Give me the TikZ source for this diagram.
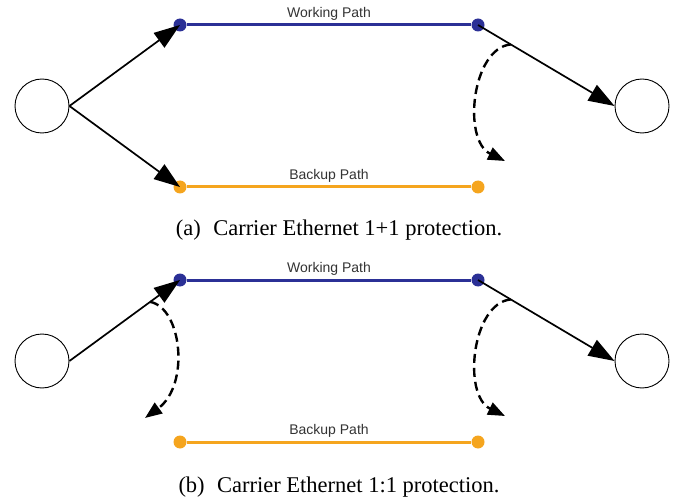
\documentclass[tikz,border=0pt]{standalone}
\usepackage{fontspec}
\setmainfont{Liberation Serif}
\newfontfamily\labelfont{Liberation Sans}
\usetikzlibrary{arrows.meta}

\definecolor{workblue}{RGB}{43,48,150}
\definecolor{backorange}{RGB}{245,165,30}

\begin{document}
\begin{tikzpicture}[x=1pt, y=-1pt,
    host/.style={draw, circle, line width=0.9pt, minimum size=54pt, inner sep=0pt},
    port/.style={circle, fill=#1, minimum size=13pt, inner sep=0pt},
    work/.style={line width=3pt, workblue},
    backup/.style={line width=3pt, backorange},
    link/.style={line width=1.7pt, -{Triangle[length=26pt, width=18pt]}},
    switch/.style={line width=2.4pt, dash pattern=on 9pt off 5pt, -{Triangle[length=17pt, width=13pt]}},
    pathlabel/.style={font=\labelfont\fontsize{14}{16}\selectfont, text=black!80, anchor=base},
    caption/.style={font=\fontsize{22.5}{26}\selectfont, anchor=base}]
    \useasboundingbox (0,0) rectangle (680,497);

    % (a) 1+1 protection
    \node[host] (La) at (42, 106) {};
    \node[host] (Ra) at (642, 106) {};
    \node[port=workblue] (WaL) at (180, 25) {};
    \node[port=workblue] (WaR) at (478, 25) {};
    \node[port=backorange] (BaL) at (180, 187) {};
    \node[port=backorange] (BaR) at (478, 187) {};

    \draw[work] (WaL) -- (WaR) node[pathlabel, midway, above=0pt] {Working Path};
    \draw[backup] (BaL) -- (BaR) node[pathlabel, midway, above=0pt] {Backup Path};

    \draw[link] (La.east) -- (WaL.center);
    \draw[link] (La.east) -- (BaL.center);
    \draw[link] (WaR.center) -- coordinate[pos=0.24] (sa) (Ra.west);

    \coordinate (ea) at (505, 161);
    \draw[switch] (sa) .. controls (472,48) and (462,140) .. (ea);

    \node[caption] (capa) at (339, 236) {(a)\hspace{0.3em} Carrier Ethernet 1+1 protection.};

    % (b) 1:1 protection
    \node[host] (Lb) at (42, 361) {};
    \node[host] (Rb) at (642, 361) {};
    \node[port=workblue] (WbL) at (180, 280) {};
    \node[port=workblue] (WbR) at (478, 280) {};
    \node[port=backorange] (BbL) at (180, 442) {};
    \node[port=backorange] (BbR) at (478, 442) {};

    \draw[work] (WbL) -- (WbR) node[pathlabel, midway, above=0pt] {Working Path};
    \draw[backup] (BbL) -- (BbR) node[pathlabel, midway, above=0pt] {Backup Path};

    \draw[link] (Lb.east) -- coordinate[pos=0.73] (sb) (WbL.center);
    \draw[link] (WbR.center) -- coordinate[pos=0.24] (sc) (Rb.west);

    \coordinate (eb) at (145, 418);
    \coordinate (ec) at (505, 416);
    \draw[switch] (sb) .. controls (182,308) and (190,385) .. (eb);
    \draw[switch] (sc) .. controls (472,303) and (462,395) .. (ec);

    \node[caption] (capb) at (339, 492) {(b)\hspace{0.3em} Carrier Ethernet 1:1 protection.};
\end{tikzpicture}
\end{document}
